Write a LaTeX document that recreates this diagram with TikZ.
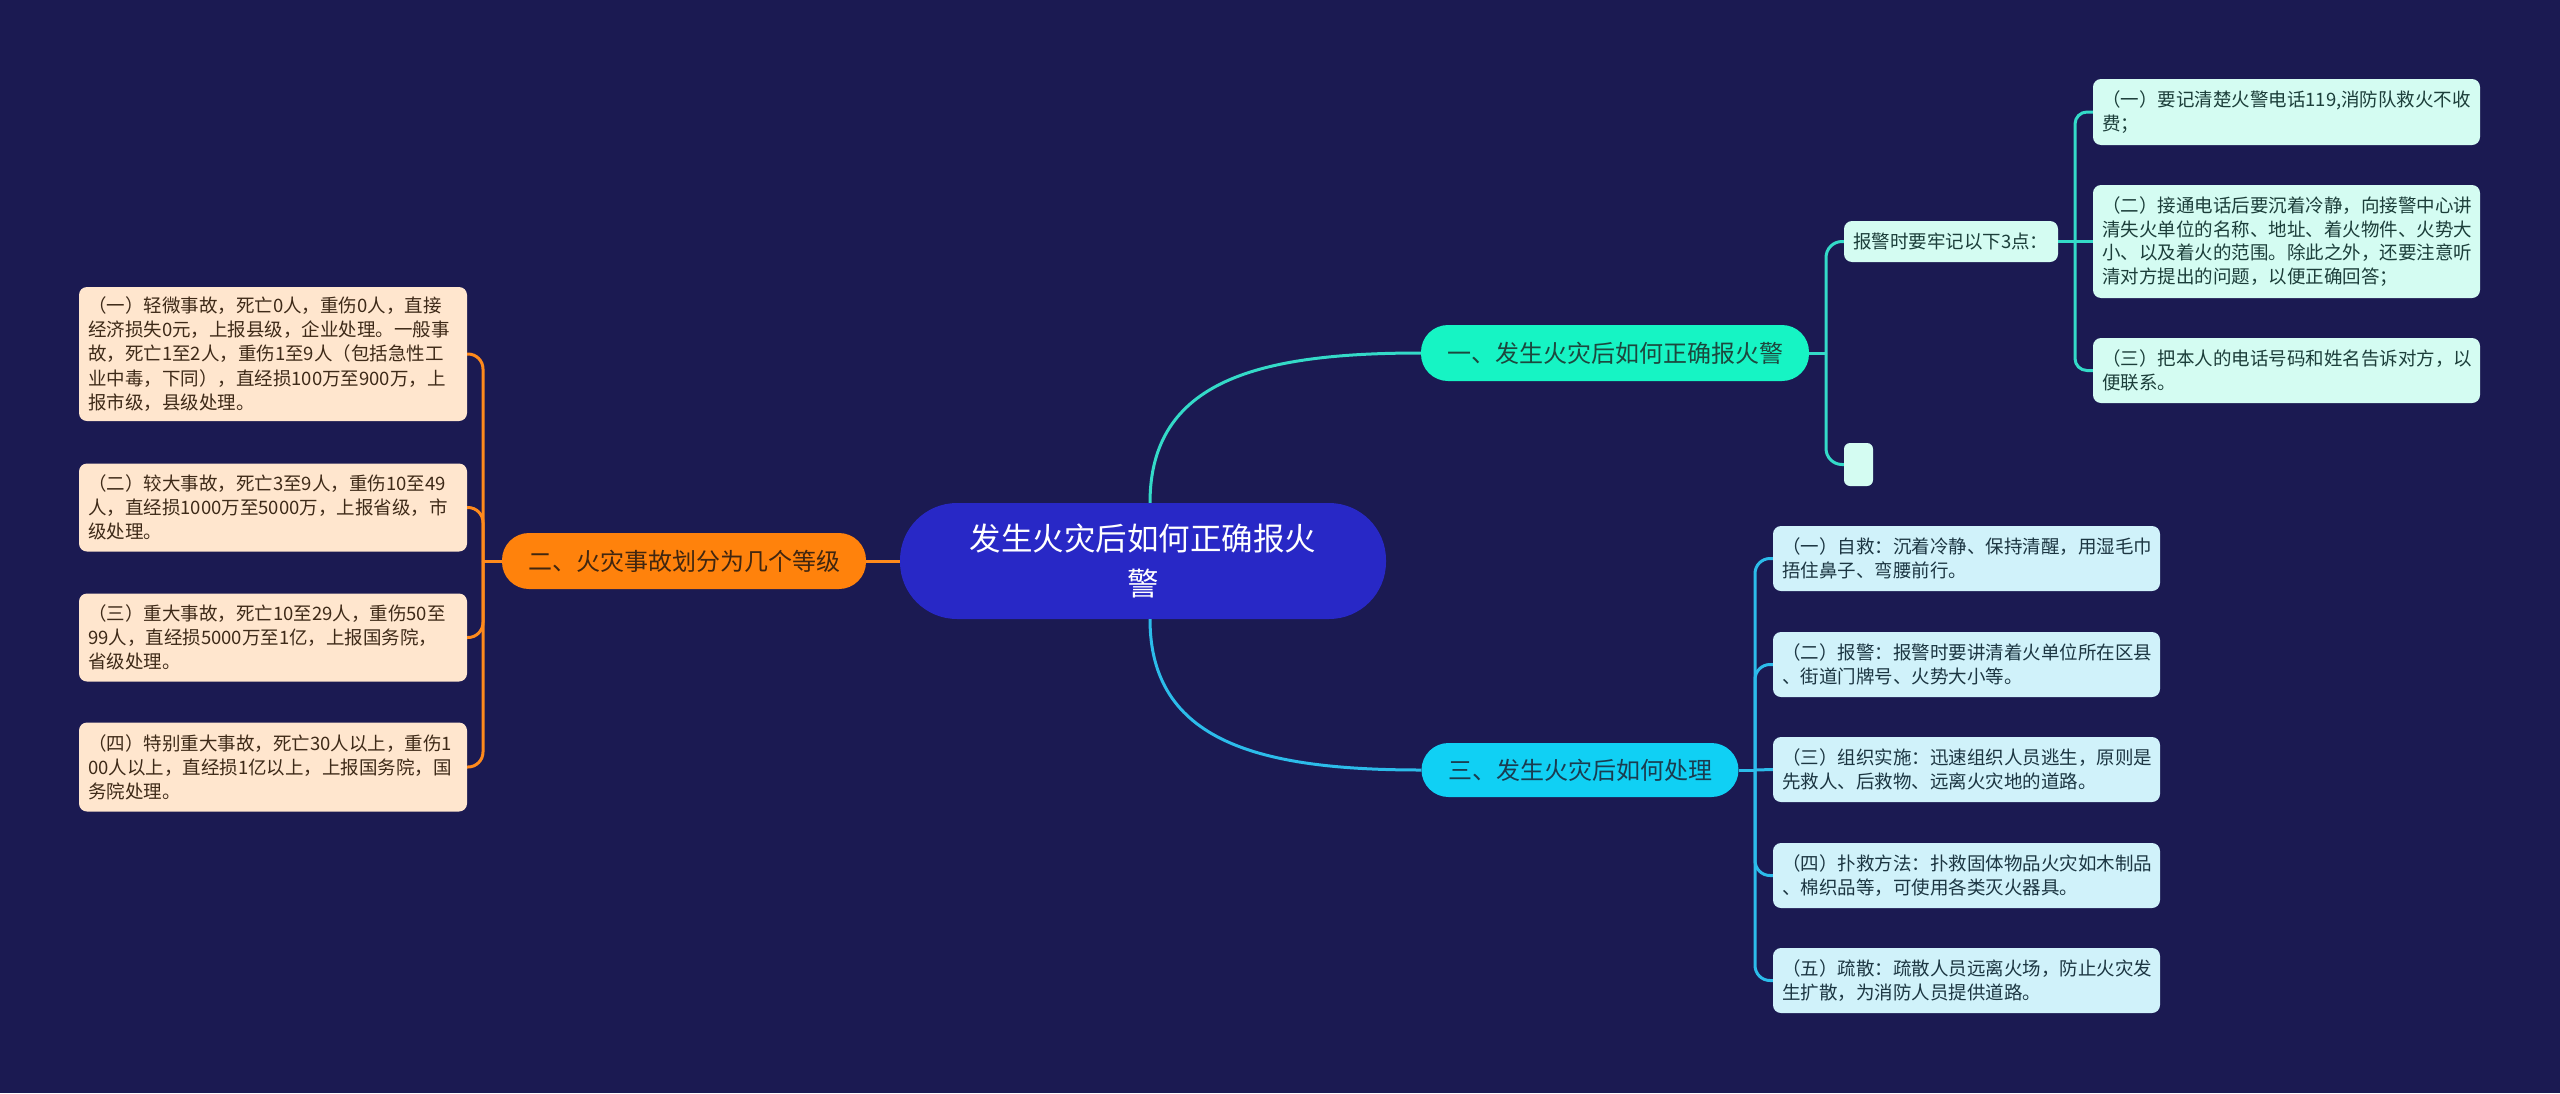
\documentclass[tikz,border=0pt]{standalone}
\usepackage{fontspec}
\setmainfont{Noto Sans CJK SC}
\definecolor{bg}{RGB}{27,26,82}
\definecolor{cfill}{RGB}{40,40,198}
\definecolor{bAfill}{RGB}{22,244,196}
\definecolor{bAtext}{RGB}{28,72,62}
\definecolor{bBfill}{RGB}{255,130,12}
\definecolor{bBtext}{RGB}{64,38,16}
\definecolor{bCfill}{RGB}{16,208,244}
\definecolor{bCtext}{RGB}{26,60,80}
\definecolor{lnA}{RGB}{52,218,200}
\definecolor{lnB}{RGB}{255,138,28}
\definecolor{lnC}{RGB}{44,188,234}
\definecolor{lfA}{RGB}{212,252,242}
\definecolor{ltA}{RGB}{28,62,58}
\definecolor{lfB}{RGB}{255,230,206}
\definecolor{ltB}{RGB}{62,42,24}
\definecolor{lfC}{RGB}{208,242,250}
\definecolor{ltC}{RGB}{28,54,66}
\tikzset{
  leaf/.style={rounded corners=8pt, inner xsep=9pt, inner ysep=0pt, align=left,
    font=\fontsize{18.5pt}{23.6pt}\selectfont},
  leafA/.style={leaf, fill=lfA, text=ltA, text width=369pt},
  leafB/.style={leaf, fill=lfB, text=ltB, text width=370pt, font=\fontsize{18.5pt}{24.1pt}\selectfont},
  leafC/.style={leaf, fill=lfC, text=ltC, text width=369pt},
  branch/.style={rounded corners=27pt, minimum height=56pt, inner sep=0pt,
    font=\fontsize{24pt}{28pt}\selectfont},
  conn/.style={line width=3pt},
}
\begin{document}
\begin{tikzpicture}[x=1pt,y=-1pt]
\useasboundingbox (0,0) rectangle (2560,1093);
\fill[bg] (0,0) rectangle (2560,1093);

% center
\node[fill=cfill, text=white, rounded corners=57pt, minimum width=486pt, minimum height=116pt,
  inner sep=0pt, align=center, font=\fontsize{31.5pt}{45pt}\selectfont]
  (center) at (1143,561) {发生火灾后如何正确报火\\警};

% branches
\node[branch, fill=bAfill, text=bAtext, minimum width=388pt] (b1) at (1615,353) {一、发生火灾后如何正确报火警};
\node[branch, fill=bBfill, text=bBtext, minimum width=364pt] (b2) at (684,561) {二、火灾事故划分为几个等级};
\node[branch, fill=bCfill, text=bCtext, minimum width=317pt, minimum height=54pt] (b3) at (1580,770) {三、发生火灾后如何处理};

% branch 1 children
\node[leafA, text width=196pt, minimum height=41pt] (k) at (1951,241.5) {报警时要牢记以下3点：};
\node[fill=lfA, rounded corners=6pt, minimum width=29pt, minimum height=43pt, inner sep=0pt] (e) at (1858.5,464.5) {};

\node[leafA, minimum height=66pt] (r1) at (2286.5,112) {（一）要记清楚火警电话119,消防队救火不收\\费；};
\node[leafA, minimum height=113pt] (r2) at (2286.5,241.5) {（二）接通电话后要沉着冷静，向接警中心讲\\清失火单位的名称、地址、着火物件、火势大\\小、以及着火的范围。除此之外，还要注意听\\清对方提出的问题，以便正确回答；};
\node[leafA, minimum height=65pt] (r3) at (2286.5,370.5) {（三）把本人的电话号码和姓名告诉对方，以\\便联系。};

% branch 2 children
\node[leafB, minimum height=134pt] (a1) at (273,354) {（一）轻微事故，死亡0人，重伤0人，直接\\经济损失0元，上报县级，企业处理。一般事\\故，死亡1至2人，重伤1至9人（包括急性工\\业中毒，下同），直经损100万至900万，上\\报市级，县级处理。};
\node[leafB, minimum height=88pt] (a2) at (273,507.5) {（二）较大事故，死亡3至9人，重伤10至49\\人，直经损1000万至5000万，上报省级，市\\级处理。};
\node[leafB, minimum height=88pt] (a3) at (273,637.5) {（三）重大事故，死亡10至29人，重伤50至\\99人，直经损5000万至1亿，上报国务院，\\省级处理。};
\node[leafB, minimum height=89pt] (a4) at (273,767) {（四）特别重大事故，死亡30人以上，重伤1\\00人以上，直经损1亿以上，上报国务院，国\\务院处理。};

% branch 3 children
\node[leafC, minimum height=65pt] (c1) at (1966.5,558.5) {（一）自救：沉着冷静、保持清醒，用湿毛巾\\捂住鼻子、弯腰前行。};
\node[leafC, minimum height=65pt] (c2) at (1966.5,664.5) {（二）报警：报警时要讲清着火单位所在区县\\、街道门牌号、火势大小等。};
\node[leafC, minimum height=65pt] (c3) at (1966.5,769.5) {（三）组织实施：迅速组织人员逃生，原则是\\先救人、后救物、远离火灾地的道路。};
\node[leafC, minimum height=65pt] (c4) at (1966.5,875.5) {（四）扑救方法：扑救固体物品火灾如木制品\\、棉织品等，可使用各类灭火器具。};
\node[leafC, minimum height=65pt] (c5) at (1966.5,980.5) {（五）疏散：疏散人员远离火场，防止火灾发\\生扩散，为消防人员提供道路。};

% spine coordinates
\coordinate (s1) at (1826,353);
\coordinate (s2) at (2075,241.5);
\coordinate (s3) at (1755,770);
\coordinate (s4) at (483,561);
\coordinate (ct) at ([xshift=7pt]center.north);
\coordinate (cb) at ([xshift=7pt]center.south);

% main connectors
\draw[conn, lnA] (ct) .. controls +(0,-123) and +(-161,0) .. (b1.west);
\draw[conn, lnC] (cb) .. controls +(0,123) and +(-161,0) .. (b3.west);
\draw[conn, lnB] (center.west) -- (b2.east);

% branch 1
\draw[conn, lnA] (b1.east) -- (s1);
\draw[conn, lnA, rounded corners=16pt] (s1) |- (k.west);
\draw[conn, lnA, rounded corners=16pt] (s1) |- (e.west);
\draw[conn, lnA] (k.east) -- (s2);
\draw[conn, lnA, rounded corners=12pt] (s2) |- (r1.west);
\draw[conn, lnA] (s2) -- (r2.west);
\draw[conn, lnA, rounded corners=12pt] (s2) |- (r3.west);

% branch 2
\draw[conn, lnB] (b2.west) -- (s4);
\foreach \n in {a1,a2,a3,a4}
  \draw[conn, lnB, rounded corners=15pt] (s4) |- (\n.east);

% branch 3
\draw[conn, lnC] (b3.east) -- (s3);
\foreach \n in {c1,c2,c4,c5}
  \draw[conn, lnC, rounded corners=15pt] (s3) |- (\n.west);
\draw[conn, lnC] (s3) -- (c3.west);
\end{tikzpicture}
\end{document}
